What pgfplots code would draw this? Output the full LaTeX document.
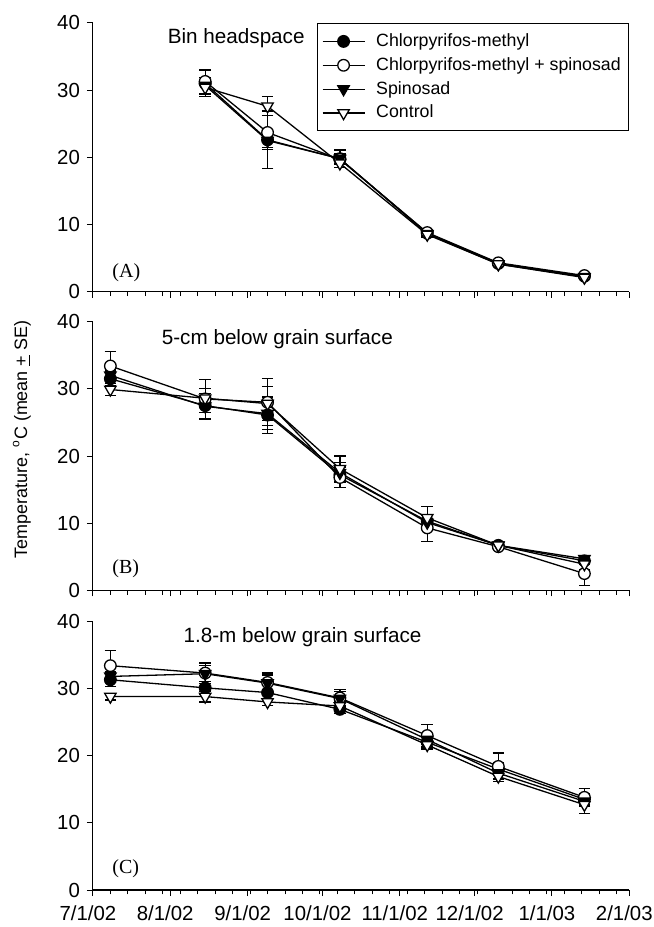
\documentclass[border=0pt]{standalone}
\usepackage{fontspec}
\setmainfont{Liberation Sans}
\newfontfamily\panelfont{Liberation Serif}
\usepackage{pgfplots}
\usepackage{pgfplotstable}
\pgfplotsset{compat=1.18}

% x = days after 7/1/02
\pgfplotstableread{
x cm cme cms cmse sp spe ct cte
45 31.0 2.0 31.3 0.6 30.7 1.2 30.4 1.0
70 22.6 4.3 23.7 2.5 22.5 1.0 27.6 1.4
99 19.8 1.3 19.7 0.8 19.8 0.8 19.1 0.6
134 8.7 0.5 8.8 0.5 8.6 0.5 8.5 0.4
162.5 4.2 0.3 4.3 0.3 4.1 0.3 4.1 0.3
197 2.3 0.3 2.4 0.3 2.2 0.3 2.1 0.3
}\tabA
\pgfplotstableread{
x cm cme cms cmse sp spe ct cte
7 31.5 1.0 33.4 2.1 32.0 0.8 29.9 0.9
45 27.5 1.0 28.5 2.9 27.4 1.9 28.6 1.4
70 26.1 2.7 28.0 3.5 26.3 2.4 27.8 2.5
99 17.2 1.2 16.8 1.5 17.5 1.5 18.1 1.9
134 10.3 1.0 9.3 2.0 10.1 1.0 10.8 1.7
162.5 6.7 0.3 6.5 0.3 6.7 0.3 6.7 0.3
197 4.4 0.6 2.5 1.8 4.7 0.5 3.9 0.8
}\tabB
\pgfplotstableread{
x cm cme cms cmse sp spe ct cte
7 31.3 1.0 33.4 2.3 31.8 0.7 28.8 0.5
45 30.1 1.0 32.3 1.5 32.2 1.2 28.8 0.8
70 29.4 1.0 30.9 1.4 30.8 1.2 28.0 0.5
99 26.9 0.6 28.6 1.3 28.5 1.0 27.4 0.6
134 22.0 0.8 23.0 1.6 22.4 0.7 21.6 0.6
162.5 18.0 1.0 18.4 2.0 17.4 0.8 16.9 0.7
197 13.5 0.8 13.8 1.3 13.2 0.7 12.7 1.3
}\tabC

\pgfplotsset{
  panel/.style={
    width=268.5pt, height=134.5pt, scale only axis,
    xmin=0, xmax=215, ymin=0, ymax=40,
    axis x line*=bottom, axis y line*=left,
    x axis line style={-}, y axis line style={-},
    tick align=outside,
    xtick={0,31,62,92,123,153,184,215},
    minor xtick={0,7,...,210},
    ytick={0,10,...,40},
    major tick length=3pt, minor tick length=2.2pt,
    every tick/.style={black, line width=0.5pt},
    axis line style={line width=0.6pt},
    ticklabel style={font=\fontsize{10.2}{12}\selectfont},
    /pgf/number format/assume math mode=true,
    clip=false},
  eb/.style={/pgfplots/error bars/y dir=both, /pgfplots/error bars/y explicit,
    /pgfplots/error bars/error bar style={line width=0.6pt, black},
    /pgfplots/error bars/error mark options={rotate=90, mark size=2.9pt, line width=0.6pt, black}},
  s1/.style={black, line width=0.65pt, mark=*, mark size=2.9pt, mark options={fill=black, solid}, eb},
  s2/.style={black, line width=0.65pt, mark=*, mark size=2.9pt, mark options={fill=white, solid}, eb},
  s3/.style={black, line width=0.65pt, mark=triangle*, mark size=3.3pt, mark options={fill=black, rotate=180, solid}, eb},
  s4/.style={black, line width=0.65pt, mark=triangle*, mark size=3.3pt, mark options={fill=white, rotate=180, solid}, eb},
}

\begin{document}
\begin{tikzpicture}
% panel A
\begin{axis}[panel, xticklabels={},
  legend style={at={(1,1)}, anchor=north east, draw=black, line width=0.5pt,
    font=\fontsize{8.9}{10}\selectfont, cells={anchor=west}, row sep=0pt,
    inner xsep=2pt, inner ysep=3pt},
  legend image code/.code={\draw[mark repeat=2, mark phase=2] plot coordinates {(0cm,0cm) (0.37cm,0cm) (0.74cm,0cm)};
    \path (0.74cm+3.5pt,0cm);}]
\addplot[s1] table[x=x, y=cm, y error=cme] {\tabA};
\addlegendentry{Chlorpyrifos-methyl}
\addplot[s2] table[x=x, y=cms, y error=cmse] {\tabA};
\addlegendentry{Chlorpyrifos-methyl + spinosad}
\addplot[s3] table[x=x, y=sp, y error=spe] {\tabA};
\addlegendentry{Spinosad}
\addplot[s4] table[x=x, y=ct, y error=cte] {\tabA};
\addlegendentry{Control}
\node[anchor=base west, font=\fontsize{10.35}{12}\selectfont] at (axis cs:27.2,37.0) {Bin headspace};
\node[anchor=base west, font=\panelfont\fontsize{10}{12}\selectfont] at (axis cs:5,2.1) {(A)};
\end{axis}
% panel B
\begin{axis}[panel, at={(0,-149.5pt)}, xticklabels={}]
\addplot[s1] table[x=x, y=cm, y error=cme] {\tabB};
\addplot[s2] table[x=x, y=cms, y error=cmse] {\tabB};
\addplot[s3] table[x=x, y=sp, y error=spe] {\tabB};
\addplot[s4] table[x=x, y=ct, y error=cte] {\tabB};
\node[anchor=base west, font=\fontsize{10.35}{12}\selectfont] at (axis cs:24.8,36.6) {5-cm below grain surface};
\node[anchor=base west, font=\panelfont\fontsize{10}{12}\selectfont] at (axis cs:5,2.5) {(B)};
\end{axis}
% panel C
\begin{axis}[panel, at={(0,-299.5pt)},
  xticklabels={7/1/02,8/1/02,9/1/02,10/1/02,11/1/02,12/1/02,1/1/03,2/1/03},
  xticklabel style={xshift=-2.5pt, yshift=-1.5pt}]
\addplot[s1] table[x=x, y=cm, y error=cme] {\tabC};
\addplot[s2] table[x=x, y=cms, y error=cmse] {\tabC};
\addplot[s3] table[x=x, y=sp, y error=spe] {\tabC};
\addplot[s4] table[x=x, y=ct, y error=cte] {\tabC};
\node[anchor=base west, font=\fontsize{10.35}{12}\selectfont] at (axis cs:33.5,36.9) {1.8-m below grain surface};
\node[anchor=base west, font=\panelfont\fontsize{10}{12}\selectfont] at (axis cs:5,2.5) {(C)};
\end{axis}
\node[rotate=90, font=\fontsize{9}{11}\selectfont] at (-35.5pt,-74pt) {Temperature, \textsuperscript{o}C (mean \underline{+} SE)};
\pgfresetboundingbox
\path[use as bounding box] (-46.5pt,-318pt) rectangle (280.5pt,146pt);
\end{tikzpicture}
\end{document}
